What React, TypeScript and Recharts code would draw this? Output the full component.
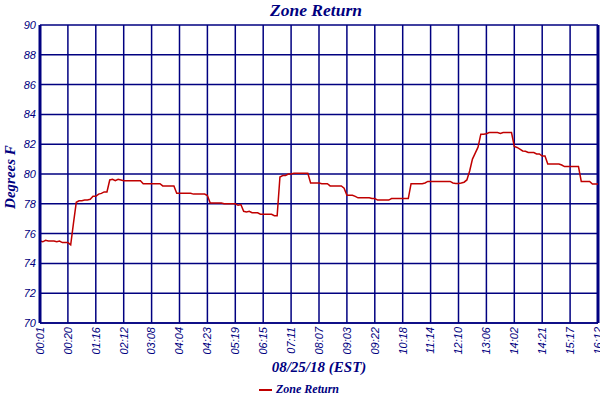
import React from 'react';
import {
  LineChart,
  Line,
  XAxis,
  YAxis,
  CartesianGrid,
  Legend,
  ReferenceLine,
} from 'recharts';

const NAVY = '#000080';
const RED = '#c00000';

// one label every 10 samples
const timeLabels = [
  '00:01', '00:20', '01:16', '02:12', '03:08', '04:04', '04:23', '05:19', '06:15', '07:11',
  '08:07', '09:03', '09:22', '10:18', '11:14', '12:10', '13:06', '14:02', '14:21', '15:17', '16:12',
];

const yTicks = [70, 72, 74, 76, 78, 80, 82, 84, 86, 88, 90];

const zoneReturn = [
  75.5, 75.45, 75.55, 75.5, 75.5, 75.5, 75.45, 75.5, 75.4, 75.4,
  75.4, 75.25, 76.7, 78.1, 78.2, 78.2, 78.25, 78.25, 78.3, 78.5,
  78.5, 78.65, 78.7, 78.8, 78.8, 79.6, 79.65, 79.55, 79.65, 79.6,
  79.55, 79.55, 79.55, 79.55, 79.55, 79.55, 79.55, 79.35, 79.35, 79.35,
  79.35, 79.35, 79.35, 79.35, 79.2, 79.2, 79.2, 79.2, 79.2, 78.7,
  78.7, 78.7, 78.7, 78.7, 78.7, 78.65, 78.65, 78.65, 78.65, 78.65,
  78.55, 78.05, 78.05, 78.05, 78.05, 78.05, 78.0, 78.0, 78.0, 78.0,
  78.0, 77.9, 77.95, 77.5, 77.45, 77.5, 77.4, 77.4, 77.4, 77.3,
  77.3, 77.3, 77.3, 77.3, 77.2, 77.2, 79.8, 79.9, 79.9, 80.0,
  80.0, 80.05, 80.05, 80.05, 80.05, 80.05, 80.05, 79.4, 79.4, 79.4,
  79.4, 79.35, 79.35, 79.35, 79.2, 79.2, 79.2, 79.2, 79.2, 79.05,
  78.57, 78.57, 78.57, 78.5, 78.4, 78.4, 78.4, 78.4, 78.4, 78.35,
  78.35, 78.25, 78.25, 78.25, 78.25, 78.25, 78.35, 78.35, 78.35, 78.35,
  78.35, 78.35, 78.35, 79.35, 79.35, 79.35, 79.35, 79.35, 79.4, 79.5,
  79.5, 79.5, 79.5, 79.5, 79.5, 79.5, 79.5, 79.5, 79.4, 79.37,
  79.37, 79.4, 79.45, 79.6, 80.2, 81.0, 81.4, 81.8, 82.67, 82.67,
  82.7, 82.78, 82.78, 82.78, 82.78, 82.72, 82.78, 82.78, 82.78, 82.78,
  81.85, 81.78, 81.67, 81.55, 81.53, 81.44, 81.44, 81.44, 81.35, 81.35,
  81.2, 81.2, 80.67, 80.67, 80.67, 80.67, 80.67, 80.6, 80.5, 80.5,
  80.5, 80.5, 80.5, 80.5, 79.5, 79.5, 79.5, 79.5, 79.33, 79.33,
  79.33,
];

const data = zoneReturn.map((v, i) => ({ idx: i, value: v }));
const xTicks = timeLabels.map((_, i) => i * 10);

const serifBold = {
  fontFamily: "'Liberation Serif', serif",
  fontStyle: 'italic',
  fontWeight: 'bold',
} as const;

const XTick = (props: any) => {
  const { x, y, payload } = props;
  return (
    <text
      x={x}
      y={y}
      dy="0.35em"
      textAnchor="end"
      transform={`rotate(-90, ${x}, ${y})`}
      fill={NAVY}
      fontSize={11}
      fontStyle="italic"
      fontFamily="'Liberation Sans', Arial, sans-serif"
    >
      {timeLabels[payload.value / 10]}
    </text>
  );
};

const YLabel = (props: any) => {
  const { viewBox } = props;
  const x = viewBox.x + 15;
  const y = viewBox.y + viewBox.height / 2 + 3;
  return (
    <text
      x={x}
      y={y}
      textAnchor="middle"
      transform={`rotate(-90, ${x}, ${y})`}
      fill={NAVY}
      fontSize={15}
      {...serifBold}
    >
      Degrees F
    </text>
  );
};

const LegendContent = () => (
  <div
    style={{
      display: 'flex',
      justifyContent: 'center',
      alignItems: 'center',
      fontSize: 12,
      color: NAVY,
      ...serifBold,
    }}
  >
    <span
      style={{ display: 'inline-block', width: 13, height: 2, background: RED, marginRight: 4 }}
    />
    Zone Return
  </div>
);

export default function App() {
  return (
    <div style={{ position: 'relative', width: 600, height: 400, background: '#fff' }}>
      <style>{'body{margin:0}'}</style>
      <div
        style={{
          position: 'absolute',
          top: 0,
          left: 0,
          width: 600,
          textAlign: 'center',
          fontSize: 17.5,
          color: NAVY,
          lineHeight: '20px',
          paddingLeft: 32,
          boxSizing: 'border-box',
          ...serifBold,
        }}
      >
        Zone Return
      </div>
      <LineChart
        width={600}
        height={400}
        data={data}
        margin={{ top: 25, right: 2, bottom: 0, left: 0 }}
      >
        <CartesianGrid stroke={NAVY} strokeWidth={1.5} />
        <XAxis
          dataKey="idx"
          type="number"
          domain={[0, 200]}
          ticks={xTicks}
          interval={0}
          height={59}
          tickLine={false}
          tickSize={0}
          tickMargin={4}
          axisLine={{ stroke: NAVY, strokeWidth: 1.5 }}
          tick={<XTick />}
          label={{
            value: '08/25/18 (EST)',
            position: 'insideBottom',
            offset: 10,
            fill: NAVY,
            fontSize: 15,
            ...serifBold,
          }}
        />
        <YAxis
          domain={[70, 90]}
          ticks={yTicks}
          interval={0}
          width={40}
          tickLine={false}
          tickSize={0}
          tickMargin={4}
          axisLine={{ stroke: NAVY, strokeWidth: 3 }}
          tick={{
            fill: NAVY,
            fontSize: 11,
            fontStyle: 'italic',
            fontFamily: "'Liberation Sans', Arial, sans-serif",
          }}
          label={<YLabel />}
        />
        <ReferenceLine x={200} stroke={NAVY} strokeWidth={3} />
        <Legend verticalAlign="bottom" height={18} content={<LegendContent />} />
        <Line
          type="linear"
          dataKey="value"
          stroke={RED}
          strokeWidth={1.5}
          dot={false}
          isAnimationActive={false}
        />
      </LineChart>
    </div>
  );
}
